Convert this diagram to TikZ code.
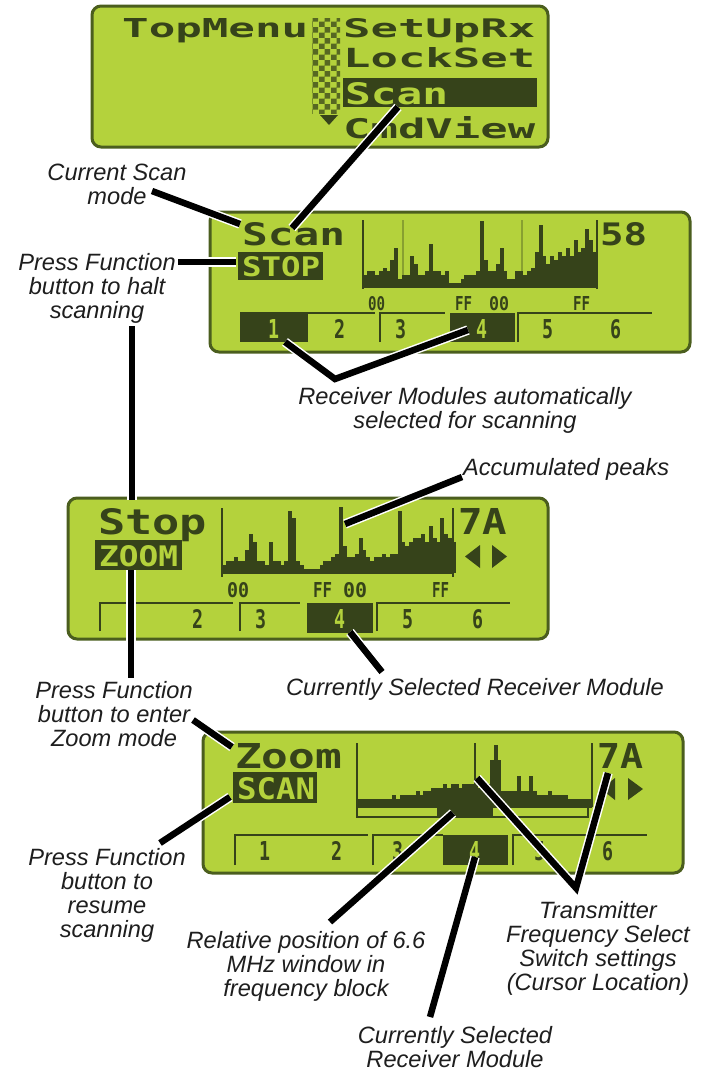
\documentclass[tikz,border=0pt]{standalone}
\usepackage{graphicx}
\usepackage{fontspec}
\setmainfont{Liberation Sans}
\newfontfamily\lcdf{DejaVu Sans Mono}
\usetikzlibrary{patterns}
\definecolor{lcd}{HTML}{B4D23C}
\definecolor{lcdedge}{HTML}{4B5E1E}
\definecolor{ink}{HTML}{36431A}
\definecolor{labink}{HTML}{1E1E1E}
\newcommand{\lcdtext}[3]{\resizebox{#1pt}{#2pt}{\lcdf\bfseries #3}}
\newcommand{\lcdspec}[2]{\foreach \h [count=\i from 0] in {#2}{\fill[ink] ({#1+\i*3.9},75) rectangle ({#1+(\i+1)*3.9+0.1},{75-\h*3.9});}}
\tikzset{
 panel/.style={draw=lcdedge, fill=lcd, line width=3pt, rounded corners=9pt},
 lcdtxt/.style={inner sep=0pt, anchor=base west, text=ink},
 lcdinv/.style={inner sep=0pt, anchor=base west, text=lcd},
 inkbox/.style={fill=ink},
 tabline/.style={draw=ink, line width=2.5pt},
 axisline/.style={draw=ink, line width=2pt},
 faint/.style={draw=ink, line width=1.5pt, opacity=0.35},
 lab/.style={font=\fontsize{23.6}{24}\selectfont\itshape, text=labink, align=center, inner sep=0pt, anchor=base},
 conn/.style={draw=black, line width=6.5pt, line join=miter, preaction={draw=white, line width=9.5pt}},
}
\begin{document}
\begin{tikzpicture}[x=1pt,y=-1pt]
\useasboundingbox (0,0) rectangle (707,1071);
\fill[white] (0,0) rectangle (707,1071);

% ---------- Panel 1: top menu ----------
\begin{scope}[shift={(92,6)}]
\draw[panel] (0,0) rectangle (456,141);
\node[lcdtxt] (m1) at (30,31) {\lcdtext{186}{19}{TopMenu}};
\fill[pattern=checkerboard, pattern color=ink!75!lcd] (220,12) rectangle (248,107);
\fill[ink] (228,109) -- (246,109) -- (237,119) -- cycle;
\node[lcdtxt] (m2) at (251,31) {\lcdtext{192}{19}{SetUpRx}};
\node[lcdtxt] (m3) at (251,61) {\lcdtext{192}{20}{LockSet}};
\fill[inkbox] (251,72) rectangle (445,101);
\node[lcdinv] (m4) at (253,98) {\lcdtext{103}{22}{Scan}};
\node[lcdtxt] (m5) at (251,132) {\lcdtext{192}{22}{CmdView}};
\end{scope}

% ---------- Panel 2: Scan ----------
\begin{scope}[shift={(210,212)}]
\draw[panel] (0,0) rectangle (480,140);
\node[lcdtxt] (s1) at (32,33) {\lcdtext{103}{23}{Scan}};
\fill[inkbox] (28,40) rectangle (113,68);
\node[lcdinv] (s2) at (32,64) {\lcdtext{78}{20}{STOP}};
\draw[faint] (193,8) -- (193,75);
\draw[faint] (312,8) -- (312,75);
\lcdspec{153}{3,4,4,3,4,5,4,7,10,2,3,3,8,6,3,3,4,11,4,4,3,4,1,1,1,2,3,3,3,4,17,7,4,4,6,10,4,2,2,4,4,3,4,5,9,16,8,6,8,7,9,8,10,8,12,9,10,15,12,9}
\draw[axisline] (153,8) -- (153,77);
\draw[axisline] (387,8) -- (387,77);
\draw[axisline] (153,75) -- (387,75);
\node[lcdtxt] (s3) at (158,98) {\lcdtext{17}{14}{00}};
\node[lcdtxt] (s4) at (245,98) {\lcdtext{17}{14}{FF}};
\node[lcdtxt] (s5) at (279,98) {\lcdtext{20}{14}{00}};
\node[lcdtxt] (s6) at (363,98) {\lcdtext{17}{14}{FF}};
\node[lcdtxt] (s7) at (390,33) {\lcdtext{47}{23}{58}};
\draw[tabline] (30,101) -- (165,101);
\draw[tabline] (170,130) -- (170,101) -- (235,101);
\draw[tabline] (308,130) -- (308,101) -- (442,101);
\fill[inkbox] (30,101) rectangle (98,130);
\fill[inkbox] (240,101) rectangle (305,130);
\node[lcdinv] (t1) at (58,126) {\lcdtext{11}{19}{1}};
\node[lcdtxt] (t2) at (124,126) {\lcdtext{11}{19}{2}};
\node[lcdtxt] (t3) at (185,126) {\lcdtext{11}{19}{3}};
\node[lcdinv] (t4) at (266,126) {\lcdtext{11}{19}{4}};
\node[lcdtxt] (t5) at (332,126) {\lcdtext{11}{19}{5}};
\node[lcdtxt] (t6) at (400,126) {\lcdtext{11}{19}{6}};
\end{scope}

% ---------- Panel 3: Stop ----------
\begin{scope}[shift={(68,498)}]
\draw[panel] (0,0) rectangle (480,141);
\node[lcdtxt] (u1) at (30,36) {\lcdtext{109}{26}{Stop}};
\fill[inkbox] (27,42) rectangle (114,72);
\node[lcdinv] (u2) at (31,68) {\lcdtext{79}{21}{ZOOM}};
\lcdspec{154}{2,3,3,4,3,3,6,10,8,3,3,2,8,3,3,2,3,16,14,3,2,1,1,1,1,2,3,3,4,5,17,7,4,4,5,9,6,4,3,4,4,5,4,5,5,16,8,7,8,9,9,10,8,12,9,8,14,10,9,8}
\draw[axisline] (154,10) -- (154,79);
\draw[axisline] (385,10) -- (385,79);
\draw[axisline] (154,75) -- (385,75);
\node[lcdtxt] (u3) at (159,99) {\lcdtext{22}{15}{00}};
\node[lcdtxt] (u4) at (245,99) {\lcdtext{19}{15}{FF}};
\node[lcdtxt] (u5) at (275,99) {\lcdtext{24}{15}{00}};
\node[lcdtxt] (u6) at (364,99) {\lcdtext{17}{15}{FF}};
\node[lcdtxt] (u7) at (390,36) {\lcdtext{49}{26}{7A}};
\fill[ink] (412,47) -- (397,58.5) -- (412,70) -- cycle;
\fill[ink] (424,47) -- (439,58.5) -- (424,70) -- cycle;
\draw[tabline] (32,133) -- (32,105) -- (165,105);
\draw[tabline] (172,133) -- (172,105) -- (232,105);
\draw[tabline] (309,133) -- (309,105) -- (442,105);
\fill[inkbox] (239,105) rectangle (305,135);
\node[lcdtxt] (v2) at (124,130) {\lcdtext{11}{19}{2}};
\node[lcdtxt] (v3) at (187,130) {\lcdtext{11}{19}{3}};
\node[lcdinv] (v4) at (266,130) {\lcdtext{11}{19}{4}};
\node[lcdtxt] (v5) at (334,130) {\lcdtext{11}{19}{5}};
\node[lcdtxt] (v6) at (404,130) {\lcdtext{11}{19}{6}};
\end{scope}

% ---------- Panel 4: Zoom ----------
\begin{scope}[shift={(203,732)}]
\draw[panel] (0,0) rectangle (480,141);
\node[lcdtxt] (z1) at (32,36) {\lcdtext{107}{25}{Zoom}};
\fill[inkbox] (30,40) rectangle (114,71);
\node[lcdinv] (z2) at (34,67) {\lcdtext{78}{22}{SCAN}};
\lcdspec{154}{2,2,2,2,2,2,2,2,2,3,2,3,3,3,3,4,3,4,4,5,5,5,6,5,6,6,5,6,6,6,6,5,5,6,12,16,12,4,4,4,4,8,4,4,8,4,3,3,3,4,3,3,3,3,2,2,2,2,2,2}
\draw[axisline] (154,11) -- (154,85) -- (385,85) -- (385,75);
\draw[axisline] (154,75) -- (389,75);
\draw[axisline] (389,11) -- (389,75);
\draw[axisline] (272,11) -- (272,75);
\fill[inkbox] (234,75) rectangle (290,85);
\node[lcdtxt] (z7) at (394,36) {\lcdtext{46}{25}{7A}};
\fill[ink] (412,46) -- (398,57) -- (412,68) -- cycle;
\fill[ink] (425,46) -- (440,57) -- (425,68) -- cycle;
\draw[tabline] (32,133) -- (32,103) -- (165,103);
\draw[tabline] (170,133) -- (170,103) -- (240,103);
\draw[tabline] (310,133) -- (310,103) -- (444,103);
\fill[inkbox] (240,103) rectangle (305,133);
\node[lcdtxt] (w1) at (56,128) {\lcdtext{11}{19}{1}};
\node[lcdtxt] (w2) at (128,128) {\lcdtext{11}{19}{2}};
\node[lcdtxt] (w3) at (189,128) {\lcdtext{11}{19}{3}};
\node[lcdinv] (w4) at (266,128) {\lcdtext{11}{19}{4}};
\node[lcdtxt] (w5) at (331,128) {\lcdtext{11}{19}{5}};
\node[lcdtxt] (w6) at (399,128) {\lcdtext{11}{19}{6}};
\end{scope}

% ---------- Labels (anchor = baseline of last line) ----------
\node[lab] (lcur) at (117,204) {Current Scan\\mode};
\node[lab] (lhalt) at (97,318) {Press Function\\button to halt\\scanning};
\node[lab] (lrecv) at (465,428) {Receiver Modules automatically\\selected for scanning};
\node[lab, anchor=base west] (lacc) at (463,475) {Accumulated peaks};
\node[lab] (lsel1) at (475,695) {Currently Selected Receiver Module};
\node[lab] (lenter) at (114,746) {Press Function\\button to enter\\Zoom mode};
\node[lab] (lresume) at (107,937) {Press Function\\button to\\resume\\scanning};
\node[lab] (lrel) at (306,996) {Relative position of 6.6\\MHz window in\\frequency block};
\node[lab] (ltx) at (598,990) {Transmitter\\Frequency Select\\Switch settings\\(Cursor Location)};
\node[lab] (lsel2) at (455,1067) {Currently Selected\\Receiver Module};

% ---------- Connector end points ----------
\coordinate (menuScan) at (398,107);
\coordinate (scanTitle) at (292,228);
\coordinate (curEnd) at (152,191);
\coordinate (scanTitleL) at (240,224);
\coordinate (haltEnd) at (178,262);
\coordinate (stopBox) at (236,262);
\coordinate (haltDown) at (132,326);
\coordinate (stopTop) at (132,500);
\coordinate (zoomBox) at (131,570);
\coordinate (enterUp) at (131,678);
\coordinate (enterEnd) at (193,720);
\coordinate (zoomTitle) at (232,747);
\coordinate (resumeEnd) at (160,843);
\coordinate (scanBox) at (230,797);
\coordinate (tab1) at (285,342);
\coordinate (recvV) at (335,379);
\coordinate (tab4) at (468,330);
\coordinate (peak) at (345,524);
\coordinate (accEnd) at (462,477);
\coordinate (stopTab4) at (350,632);
\coordinate (sel1End) at (382,672);
\coordinate (window) at (453,813);
\coordinate (relEnd) at (330,922);
\coordinate (zoomTab4) at (475,857);
\coordinate (sel2End) at (430,1017);
\coordinate (cursorBar) at (477,778);
\coordinate (txV) at (576,888);
\coordinate (cursorArrow) at (608,773);

% ---------- Connectors ----------
\draw[conn] (menuScan) -- (scanTitle);
\draw[conn] (curEnd) -- (scanTitleL);
\draw[conn] (haltEnd) -- (stopBox);
\draw[conn] (haltDown) -- (stopTop);
\draw[conn] (zoomBox) -- (enterUp);
\draw[conn] (enterEnd) -- (zoomTitle);
\draw[conn] (resumeEnd) -- (scanBox);
\draw[conn] (tab1) -- (recvV) -- (tab4);
\draw[conn] (peak) -- (accEnd);
\draw[conn] (stopTab4) -- (sel1End);
\draw[conn] (window) -- (relEnd);
\draw[conn] (zoomTab4) -- (sel2End);
\draw[conn] (cursorBar) -- (txV) -- (cursorArrow);
\end{tikzpicture}
\end{document}
